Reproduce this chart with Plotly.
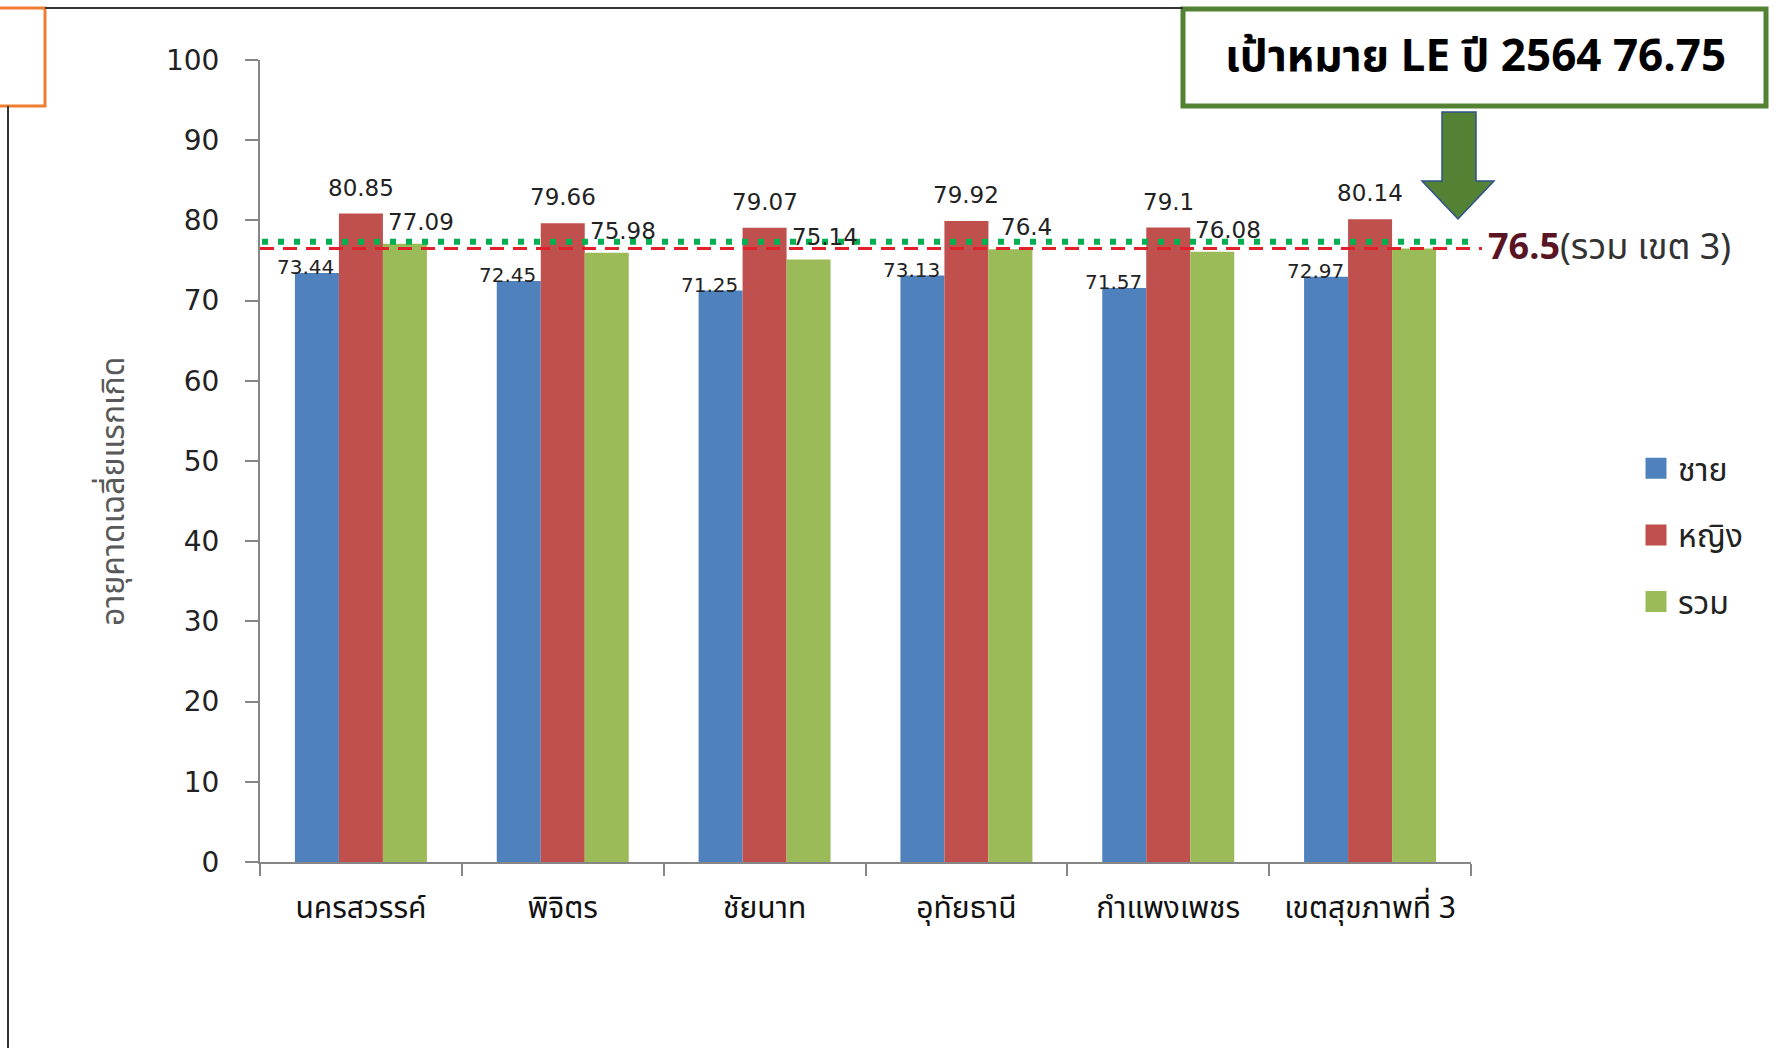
import plotly.graph_objects as go

# ---------------- data ----------------
categories = ["นครสวรรค์", "พิจิตร", "ชัยนาท", "อุทัยธานี", "กำแพงเพชร", "เขตสุขภาพที่ 3"]
male = [73.44, 72.45, 71.25, 73.13, 71.57, 72.97]
female = [80.85, 79.66, 79.07, 79.92, 79.1, 80.14]
total = [77.09, 75.98, 75.14, 76.4, 76.08, 76.5]
series_names = ["ชาย", "หญิง", "รวม"]
target_le = 76.75          # value written in the box
target_line_level = 77.35  # level at which the dotted target line is drawn in the picture
region_total = total[-1]   # 76.5 (รวม เขต 3)
y_ticks = [0, 10, 20, 30, 40, 50, 60, 70, 80, 90, 100]

# ---------------- style ----------------
W, H = 1778, 1048
L, R, T, B = 260, 307, 60, 186
PW, PH = W - L - R, H - T - B
colors = ["#4F81BD", "#C0504D", "#9BBB59"]
thai_font = "Tahoma, 'Noto Sans Thai', 'Leelawadee UI', 'DejaVu Sans', sans-serif"
num_font = "Tahoma, Verdana, 'DejaVu Sans', sans-serif"


def px(x):
    return (x - L) / PW


def py(y):
    return (H - B - y) / PH


fig = go.Figure()
for name, vals, col in zip(series_names, [male, female, total], colors):
    fig.add_trace(go.Bar(x=categories, y=vals, name=name, marker_color=col,
                         marker_line_width=0, showlegend=False))
# legend entries (large square swatches)
for name, col in zip(series_names, colors):
    fig.add_trace(go.Scatter(x=[categories[0]], y=[None], name=name, mode="markers",
                             legendgroup=name,
                             marker=dict(symbol="square", size=16, color=col,
                                         line=dict(color=col, width=5))))

annotations = []
# data labels
label_cfg = [(male, -55, 6, 20), (female, 0, 26, 23), (total, 60, 22, 23)]
for si, (vals, xs, ys, fs) in enumerate(label_cfg):
    for i, (c, v) in enumerate(zip(categories, vals)):
        if si == 2 and i == len(categories) - 1:
            continue  # region total labelled at right of dashed line
        annotations.append(dict(x=c, y=v, xref="x", yref="y", text=f"{v:g}",
                                showarrow=False, xshift=xs, yshift=ys, yanchor="middle",
                                font=dict(family=num_font, size=fs, color="#222222")))

# region label next to dashed line
annotations.append(dict(x=px(1486), y=region_total, xref="paper", yref="y",
                        xanchor="left", yanchor="middle", showarrow=False,
                        text=f"<b>{region_total:g}</b><span style='font-size:36px;color:#333333'>(รวม เขต 3)</span>",
                        font=dict(family=thai_font, size=36, color="#5A1424")))

# y axis title
annotations.append(dict(x=px(114), y=py(492), xref="paper", yref="paper",
                        xanchor="center", yanchor="middle",
                        text="อายุคาดเฉลี่ยแรกเกิด", textangle=-90, showarrow=False,
                        font=dict(family=thai_font, size=32, color="#595959")))

# target box text
annotations.append(dict(x=px(1475), y=py(57), xref="paper", yref="paper",
                        xanchor="center", yanchor="middle",
                        text=f"<b>เป้าหมาย LE ปี 2564 {target_le:g}</b>", showarrow=False,
                        font=dict(family=thai_font, size=44, color="#000000")))

shapes = [
    # red dashed region line
    dict(type="line", xref="paper", yref="y", x0=0, x1=px(1482), y0=region_total, y1=region_total,
         line=dict(color="#E0202A", width=3, dash="14px,9px"), layer="above"),
    # green dotted target line
    dict(type="line", xref="paper", yref="y", x0=px(262), x1=px(1470), y0=target_line_level,
         y1=target_line_level, line=dict(color="#00B050", width=6, dash="6px,10px"), layer="above"),
    # green target box
    dict(type="rect", xref="paper", yref="paper", x0=px(1183), x1=px(1766), y0=py(106), y1=py(9),
         line=dict(color="#548235", width=5), fillcolor="white", layer="above"),
    # arrow
    dict(type="path", xref="paper", yref="paper",
         path=(f"M {px(1442)} {py(112)} L {px(1476)} {py(112)} L {px(1476)} {py(181)} "
               f"L {px(1494)} {py(181)} L {px(1458)} {py(219)} L {px(1422)} {py(181)} "
               f"L {px(1442)} {py(181)} Z"),
         fillcolor="#548235", line=dict(color="#2F528F", width=1.5), layer="above"),
    # orange corner box
    dict(type="rect", xref="paper", yref="paper", x0=px(-2), x1=px(45), y0=py(106), y1=py(8),
         line=dict(color="#ED7D31", width=3), layer="above"),
    # frame lines
    dict(type="line", xref="paper", yref="paper", x0=px(45), x1=px(1183), y0=py(8), y1=py(8),
         line=dict(color="#333333", width=2)),
    dict(type="line", xref="paper", yref="paper", x0=px(8), x1=px(8), y0=py(106), y1=py(1050),
         line=dict(color="#333333", width=2)),
]

fig.update_layout(
    width=W, height=H,
    margin=dict(l=L, r=R, t=T, b=B, autoexpand=False),
    paper_bgcolor="white", plot_bgcolor="white",
    barmode="group", bargap=0.346, bargroupgap=0,
    showlegend=True,
    legend=dict(x=px(1634), y=py(535), xanchor="left", yanchor="middle",
                font=dict(family=thai_font, size=32, color="#222222"),
                traceorder="grouped", tracegroupgap=22, itemwidth=34, itemsizing="trace",
                bgcolor="rgba(0,0,0,0)"),
    annotations=annotations,
    shapes=shapes,
    xaxis=dict(showline=True, linecolor="#868686", linewidth=2, ticks="outside",
               tickson="boundaries", ticklen=12, tickcolor="#868686", tickwidth=2,
               showgrid=False, ticklabelstandoff=18,
               tickfont=dict(family=thai_font, size=30, color="#111111")),
    yaxis=dict(range=[0, 100], tickvals=y_ticks, showline=True, linecolor="#868686",
               linewidth=2, ticks="outside", ticklen=13, tickcolor="#868686", tickwidth=2,
               showgrid=False, zeroline=False, ticklabelstandoff=20,
               tickfont=dict(family=num_font, size=28, color="#222222")),
)

fig.write_html("out.html")
